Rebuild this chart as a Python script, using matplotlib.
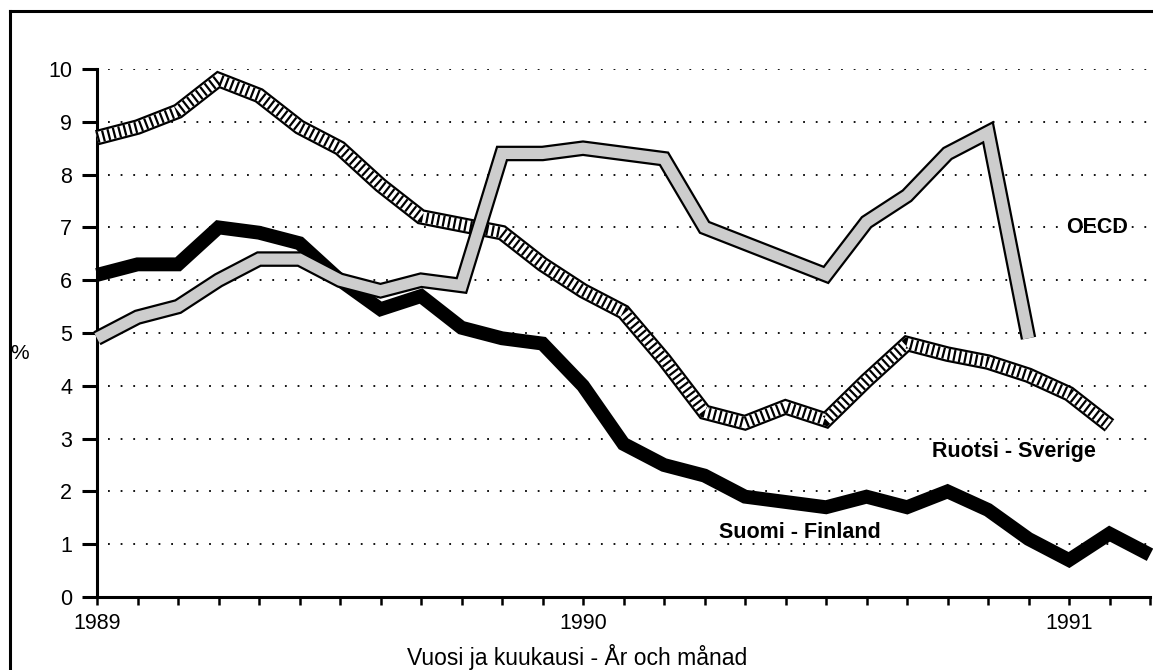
import matplotlib
matplotlib.use("Agg")
import matplotlib.pyplot as plt
from matplotlib.lines import Line2D

plt.rcParams['font.family'] = ['Liberation Sans', 'DejaVu Sans']

# monthly values from Jan 1989, index 0 = 1989-01
months_fin = list(range(27))
finland = [6.1, 6.3, 6.3, 7.0, 6.9, 6.7, 6.0, 5.45, 5.7, 5.1, 4.9, 4.8,
           4.0, 2.9, 2.5, 2.3, 1.9, 1.8, 1.7, 1.9, 1.7, 2.0, 1.65, 1.1,
           0.7, 1.2, 0.8]

months_swe = list(range(26))
sweden = [8.7, 8.9, 9.2, 9.8, 9.5, 8.9, 8.5, 7.8, 7.2, 7.05, 6.9, 6.3,
          5.8, 5.4, 4.5, 3.5, 3.3, 3.6, 3.35, 4.1, 4.8, 4.6, 4.45, 4.2,
          3.85, 3.25]

months_oecd = list(range(24))
oecd = [4.9, 5.3, 5.5, 6.0, 6.4, 6.4, 6.0, 5.8, 6.0, 5.9, 8.4, 8.4,
        8.5, 8.4, 8.3, 7.0, 6.7, 6.4, 6.1, 7.1, 7.6, 8.4, 8.8, 4.9]

year_ticks = [0, 12, 24]
year_labels = ['1989', '1990', '1991']
y_ticks = list(range(11))

fig = plt.figure(figsize=(11.53, 6.70), dpi=100)
ax = fig.add_axes([97 / 1153, 1 - 597 / 670, (1150 - 97) / 1153, (597 - 69) / 670])

# gridlines
for v in y_ticks[1:]:
    ax.axhline(v, xmin=0.01, xmax=1, color='black', lw=1.3,
               linestyle=(0, (1, 6)), zorder=1)

# Finland: solid thick black
ax.plot(months_fin, finland, color='black', lw=10, solid_joinstyle='miter',
        solid_capstyle='butt', zorder=3, clip_on=False)

# Sweden: outlined band with stripes
ax.plot(months_swe, sweden, color='black', lw=11.2, solid_joinstyle='miter',
        solid_capstyle='butt', zorder=4, clip_on=False)
ax.plot(months_swe, sweden, color='white', lw=8.0, solid_joinstyle='miter',
        solid_capstyle='butt', zorder=4, clip_on=False)
ax.plot(months_swe, sweden, color='black', lw=8.0, linestyle=(0, (0.2, 0.3)),
        dash_capstyle='butt', dash_joinstyle='miter', zorder=4, clip_on=False)

# OECD: outlined band with stipple
ax.plot(months_oecd, oecd, color='black', lw=11.2, solid_joinstyle='miter',
        solid_capstyle='butt', zorder=5, clip_on=False)
ax.plot(months_oecd, oecd, color='#cdcdcd', lw=8.0, solid_joinstyle='miter',
        solid_capstyle='butt', zorder=5, clip_on=False)

ax.set_xlim(0, 26)
ax.set_ylim(0, 10)
ax.set_yticks(y_ticks)
ax.set_yticklabels([str(v) for v in y_ticks], fontsize=15.5)
ax.set_xticks(range(27), minor=True)
ax.set_xticks(year_ticks)
ax.set_xticklabels(year_labels, fontsize=15.5)

for s in ['top', 'right']:
    ax.spines[s].set_visible(False)
for s in ['left', 'bottom']:
    ax.spines[s].set_linewidth(2.2)
ax.tick_params(axis='y', direction='out', length=10.8, width=2.2, pad=7)
ax.tick_params(axis='x', which='both', direction='out', length=5.8, width=1.8, pad=6)

ax.text(24.7, 7.0, 'OECD', fontsize=15.5, fontweight='bold', ha='center', va='center')
ax.text(22.65, 2.75, 'Ruotsi - Sverige', fontsize=15.5, fontweight='bold',
        ha='center', va='center')
ax.text(17.35, 1.22, 'Suomi - Finland', fontsize=15.5, fontweight='bold',
        ha='center', va='center')

fig.text(20 / 1153, 1 - 353 / 670, '%', fontsize=15, ha='center', va='center')
fig.text(577 / 1153, 1 - 657 / 670, 'Vuosi ja kuukausi - År och månad',
         fontsize=16.5, ha='center', va='center')

# outer frame
fig.add_artist(Line2D([10 / 1153, 10 / 1153], [0, 1 - 11 / 670],
                      transform=fig.transFigure, color='black', lw=2.2))
fig.add_artist(Line2D([10 / 1153, 1], [1 - 11 / 670, 1 - 11 / 670],
                      transform=fig.transFigure, color='black', lw=2.2))

fig.savefig('out.png', dpi=100)
